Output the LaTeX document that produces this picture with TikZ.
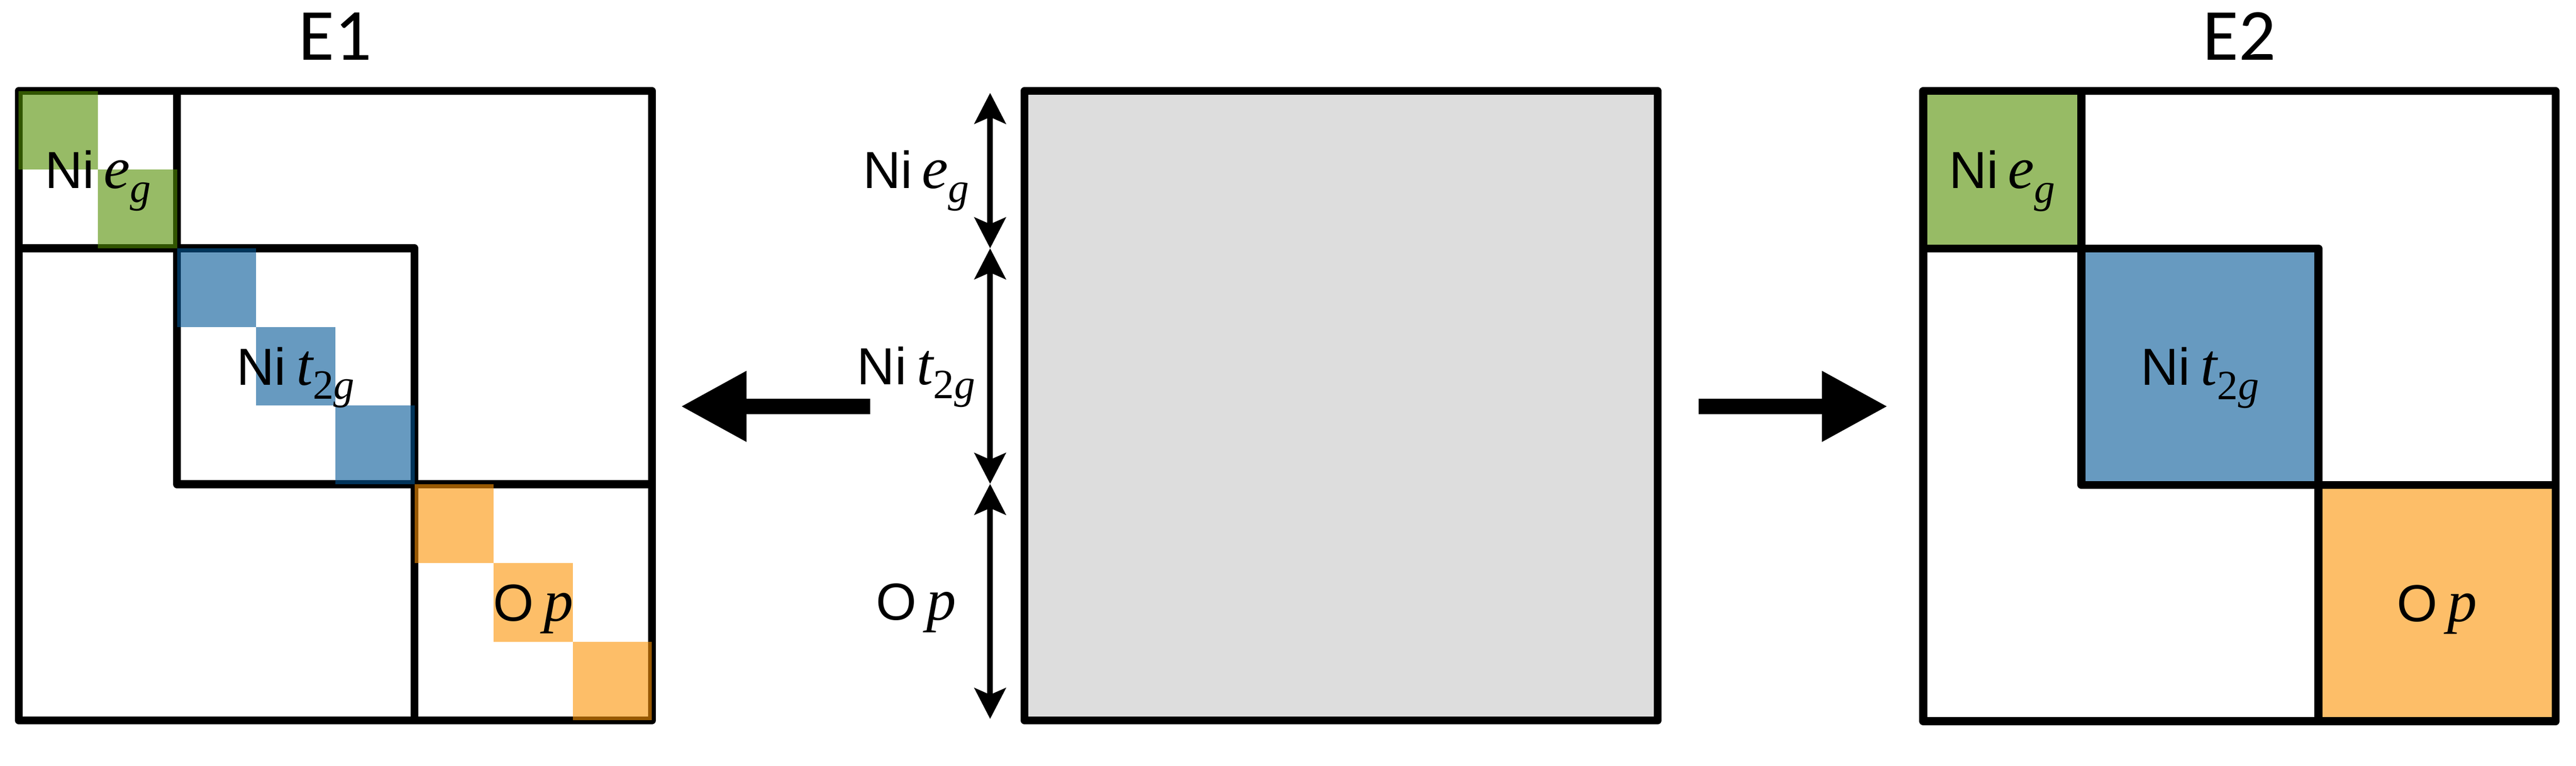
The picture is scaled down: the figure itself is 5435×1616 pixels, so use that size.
\documentclass[tikz,border=0pt]{standalone}
\usepackage{fontspec}
\newfontfamily\capfont{Carlito}
\newfontfamily\sansf{Liberation Sans}
\newfontfamily\serf{Liberation Serif}
\usetikzlibrary{arrows.meta}
\definecolor{egc}{RGB}{151,187,101}
\definecolor{tgc}{RGB}{103,154,192}
\definecolor{opc}{RGB}{253,190,104}
\definecolor{egd}{RGB}{82,142,0}
\definecolor{tgd}{RGB}{2,87,150}
\definecolor{opd}{RGB}{252,147,3}
\definecolor{midgray}{RGB}{221,221,221}
\newcommand{\orb}[4]{{\fontsize{110pt}{110pt}\selectfont\sansf #1}\hspace{#2}{\fontsize{125pt}{125pt}\selectfont\serf\itshape #3}\raisebox{-30pt}{\fontsize{88pt}{88pt}\selectfont\serf #4}}
\newcommand{\Leg}{\orb{Ni}{20pt}{e}{\itshape g}}
\newcommand{\Ltg}{\orb{Ni}{22pt}{t}{2\itshape g}}
\newcommand{\Lop}{\orb{O}{21pt}{p}{}}
\begin{document}
\begin{tikzpicture}[x=1pt,y=-1pt,
  gridline/.style={line width=17pt,line join=round},
  lab/.style={inner sep=0pt,anchor=base},
  ttl/.style={inner sep=0pt,anchor=base,font=\fontsize{155pt}{155pt}\selectfont\capfont},
  thinarrow/.style={line width=12pt,{Stealth[length=65pt,width=66pt,inset=14pt]}-{Stealth[length=65pt,width=66pt,inset=14pt]}},
  fatarrow/.style={line width=33pt,-{Triangle[length=139pt,width=140pt]}}]
\useasboundingbox (0,0) rectangle (5435,1616);

% titles
\node[ttl] (t1) at (707,127) {E1};
\node[ttl] (t2) at (4725,127) {E2};

% ---------- E1 ----------
\begin{scope}[shift={(39.5,192)},x=167pt,y=-166pt]
  \draw[gridline] (0,0) rectangle (8,8);
  \draw[gridline] (2,0) -- (2,5) -- (8,5);
  \draw[gridline] (0,2) -- (5,2) -- (5,8);
  \foreach \i in {0,1} \fill[egd,fill opacity=0.6] (\i,\i) rectangle ++(1,1);
  \foreach \i in {2,3,4} \fill[tgd,fill opacity=0.6] (\i,\i) rectangle ++(1,1);
  \foreach \i in {5,6,7} \fill[opd,fill opacity=0.6] (\i,\i) rectangle ++(1,1);
  \node[lab] (e1eg) at ([yshift=-39pt]1,1) {\Leg};
  \node[lab] (e1tg) at ([yshift=-39pt]3.5,3.5) {\Ltg};
  \node[lab] (e1op) at ([yshift=-39pt]6.5,6.5) {\Lop};
\end{scope}

% ---------- centre ----------
\draw[gridline,fill=midgray] (2161.5,192) rectangle (3497.5,1520);
\coordinate (a0) at (2089,196);
\coordinate (a1) at (2089,524);
\coordinate (a2) at (2089,1021);
\coordinate (a3) at (2089,1517);
\draw[thinarrow] (a0) -- (a1);
\draw[thinarrow] (a1) -- (a2);
\draw[thinarrow] (a2) -- (a3);
\node[lab] (ceg) at ([yshift=-39pt]1933,358) {\Leg};
\node[lab] (ctg) at ([yshift=-39pt]1933,772) {\Ltg};
\node[lab] (cop) at ([yshift=-39pt]1933,1269) {\Lop};

% ---------- big arrows ----------
\coordinate (l1) at (1836,857.5);
\coordinate (l2) at (1436,857.5);
\coordinate (r1) at (3584,857.5);
\coordinate (r2) at (3983,857.5);
\draw[fatarrow] (l1) -- (l2);
\draw[fatarrow] (r1) -- (r2);

% ---------- E2 ----------
\begin{scope}[shift={(4058,192)},x=166.75pt,y=-166.25pt]
  \fill[egc] (0,0) rectangle (2,2);
  \fill[tgc] (2,2) rectangle (5,5);
  \fill[opc] (5,5) rectangle (8,8);
  \draw[gridline] (0,0) rectangle (8,8);
  \draw[gridline] (2,0) -- (2,5) -- (8,5);
  \draw[gridline] (0,2) -- (5,2) -- (5,8);
  \node[lab] (e2eg) at ([yshift=-39pt]1,1) {\Leg};
  \node[lab] (e2tg) at ([yshift=-39pt]3.5,3.5) {\Ltg};
  \node[lab] (e2op) at ([yshift=-39pt]6.5,6.5) {\Lop};
\end{scope}
\end{tikzpicture}
\end{document}
